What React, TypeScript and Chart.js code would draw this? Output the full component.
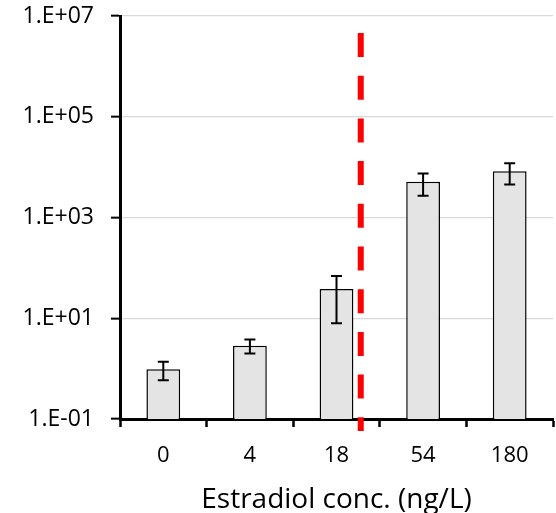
import React, { useEffect, useRef } from "react";
import { Chart, registerables } from "chart.js";

Chart.register(...registerables);

const categories = ["0", "4", "18", "54", "180"];
const values = [0.97, 2.85, 38, 5100, 8300];
const errHigh = [1.37, 3.8, 69, 7500, 12000];
const errLow = [0.59, 2.0, 8.0, 2700, 4500];
const yTickValues = [0.1, 10, 1000, 100000, 10000000];
const yTickLabels = ["1.E-01", "1.E+01", "1.E+03", "1.E+05", "1.E+07"];
const thresholdPosition = 2.28;
const xTitle = "Estradiol conc. (ng/L)";

const FONT = "'Open Sans', 'Noto Sans', sans-serif";

const errorBarPlugin = {
  id: "errorBars",
  afterDatasetsDraw(chart: any) {
    const { ctx, scales } = chart;
    const meta = chart.getDatasetMeta(0);
    const y = scales.y;
    ctx.save();
    ctx.strokeStyle = "#000";
    ctx.lineWidth = 2;
    meta.data.forEach((bar: any, i: number) => {
      const x = bar.x;
      const yt = y.getPixelForValue(errHigh[i]);
      const yb = y.getPixelForValue(errLow[i]);
      const hw = 5.5;
      ctx.beginPath();
      ctx.moveTo(x, yt);
      ctx.lineTo(x, yb);
      ctx.moveTo(x - hw, yt);
      ctx.lineTo(x + hw, yt);
      ctx.moveTo(x - hw, yb);
      ctx.lineTo(x + hw, yb);
      ctx.stroke();
    });
    ctx.restore();
  },
};

const thresholdPlugin = {
  id: "threshold",
  afterDraw(chart: any) {
    const { ctx, scales, chartArea } = chart;
    const x = scales.x.getPixelForValue(thresholdPosition);
    ctx.save();
    ctx.strokeStyle = "#ff0000";
    ctx.lineWidth = 6;
    ctx.setLineDash([24, 18.7]);
    ctx.beginPath();
    ctx.moveTo(x, chartArea.top + 17);
    ctx.lineTo(x, chartArea.bottom + 12);
    ctx.stroke();
    ctx.restore();
  },
};

export default function App() {
  const ref = useRef<HTMLCanvasElement | null>(null);
  useEffect(() => {
    if (!ref.current) return;
    Chart.defaults.font.family = FONT;
    Chart.defaults.color = "#000";
    const chart = new Chart(ref.current, {
      type: "bar",
      data: {
        labels: categories,
        datasets: [
          {
            data: values,
            backgroundColor: "#e4e4e4",
            borderColor: "#000",
            borderWidth: 1.5,
            barPercentage: 0.39,
            categoryPercentage: 1,
          },
        ],
      },
      options: {
        responsive: false,
        animation: false,
        layout: { padding: { top: 16, right: 3, left: 0, bottom: 0 } },
        plugins: { legend: { display: false }, tooltip: { enabled: false } },
        scales: {
          x: {
            afterFit(scale: any) {
              scale.height = 94;
            },
            grid: {
              drawOnChartArea: false,
              offset: true,
              tickLength: 8,
              tickColor: "#000",
              tickWidth: 2.5,
            },
            border: { display: true, color: "#000", width: 3 },
            ticks: { font: { size: 22 }, padding: 16, color: "#000" },
            title: {
              display: true,
              text: xTitle,
              font: { size: 28 },
              color: "#000",
              padding: { top: 0, bottom: -4 },
            },
          },
          y: {
            type: "logarithmic",
            min: 0.1,
            max: 10000000,
            afterFit(scale: any) {
              scale.width = 120;
              scale.paddingTop = 0;
              scale.paddingBottom = 0;
            },
            afterBuildTicks(scale: any) {
              scale.ticks = yTickValues.map((v) => ({ value: v }));
            },
            grid: {
              color: "#d9d9d9",
              lineWidth: 1.3,
              tickLength: 9,
              tickColor: "#000",
              tickWidth: 2,
            },
            border: { display: true, color: "#000", width: 3 },
            ticks: {
              font: { size: 23 },
              padding: 17,
              color: "#000",
              autoSkip: false,
              callback: (_v: any, i: number) => yTickLabels[i],
            },
          },
        },
      },
      plugins: [errorBarPlugin, thresholdPlugin],
    } as any);
    return () => chart.destroy();
  }, []);
  return (
    <div style={{ position: "fixed", left: 0, top: 0, width: 556, height: 513, background: "#fff" }}>
      <canvas ref={ref} width={556} height={513} style={{ display: "block" }} />
    </div>
  );
}
